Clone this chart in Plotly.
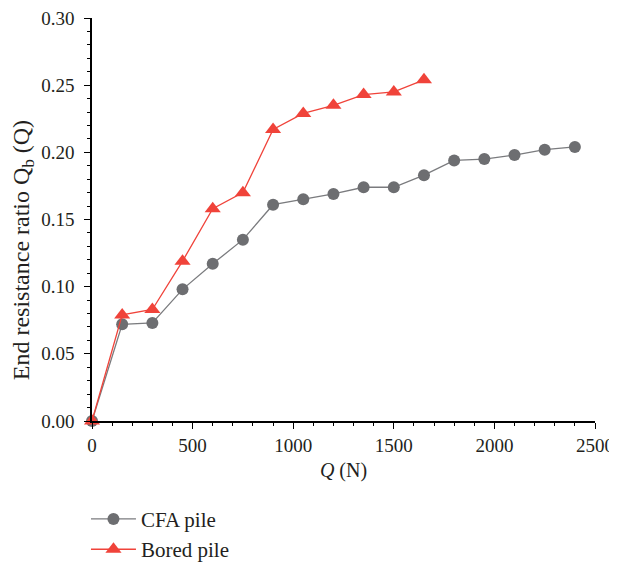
import plotly.graph_objects as go

cfa_q = [0, 150, 300, 450, 600, 750, 900, 1050, 1200, 1350, 1500, 1650, 1800, 1950, 2100, 2250, 2400]
cfa_ratio = [0, 0.072, 0.073, 0.098, 0.117, 0.135, 0.161, 0.165, 0.169, 0.174, 0.174, 0.183, 0.194, 0.195, 0.198, 0.202, 0.204]
bored_q = [0, 150, 300, 450, 600, 750, 900, 1050, 1200, 1350, 1500, 1650]
bored_ratio = [0, 0.079, 0.083, 0.119, 0.158, 0.170, 0.217, 0.229, 0.235, 0.243, 0.245, 0.254]

FONT = "Liberation Serif"
TXT = "#231f20"

fig = go.Figure()
fig.add_trace(go.Scatter(
    x=cfa_q, y=cfa_ratio, name="CFA pile", mode="lines+markers",
    line=dict(color="#7a7b7e", width=1.3),
    marker=dict(symbol="circle", size=12, color="#6d6e71"),
    legendgroup="a", cliponaxis=False,
))
fig.add_trace(go.Scatter(
    x=bored_q, y=bored_ratio, name="Bored pile", mode="lines+markers",
    line=dict(color="#f0433a", width=1.3),
    marker=dict(symbol="triangle-up", size=14, color="#f0433a"),
    legendgroup="b", cliponaxis=False,
))

axis_common = dict(
    showline=True, linecolor="black", linewidth=1.5, mirror=False,
    ticks="outside", ticklen=6, tickwidth=1.3, tickcolor="black",
    showgrid=False, zeroline=False, automargin=False,
    ticklabeloverflow="allow",
    tickfont=dict(family=FONT, size=19, color=TXT),
    title_font=dict(family=FONT, size=20, color=TXT),
)

fig.update_xaxes(
    range=[0, 2500], tickvals=[0, 500, 1000, 1500, 2000, 2500],
    minor=dict(ticks="outside", ticklen=3, tickwidth=1, tickcolor="black", dtick=100, tick0=0),
    title_text="<i>Q</i> (N)", title_standoff=8,
    **axis_common,
)
fig.update_yaxes(
    range=[0, 0.30], tickvals=[0, 0.05, 0.10, 0.15, 0.20, 0.25, 0.30], tickformat=".2f",
    minor=dict(ticks="outside", ticklen=3, tickwidth=1, tickcolor="black", dtick=0.01, tick0=0),
    ticklabelstandoff=6,
    **axis_common,
)

fig.add_annotation(
    text="End resistance ratio Q<sub>b</sub> (Q)", textangle=-90,
    xref="paper", yref="paper", x=-0.137, y=0.424,
    xanchor="center", yanchor="middle", showarrow=False,
    font=dict(family=FONT, size=24, color=TXT),
)

fig.update_layout(
    width=609, height=554,
    margin=dict(l=84, r=22, t=10, b=141, autoexpand=False),
    plot_bgcolor="white", paper_bgcolor="white",
    font=dict(family=FONT, color=TXT),
    legend=dict(
        x=-0.012, y=-0.193, xanchor="left", yanchor="top",
        font=dict(family=FONT, size=21, color=TXT),
        tracegroupgap=0, itemwidth=45, bgcolor="rgba(0,0,0,0)",
    ),
    showlegend=True,
)

fig.write_html("out.html")
